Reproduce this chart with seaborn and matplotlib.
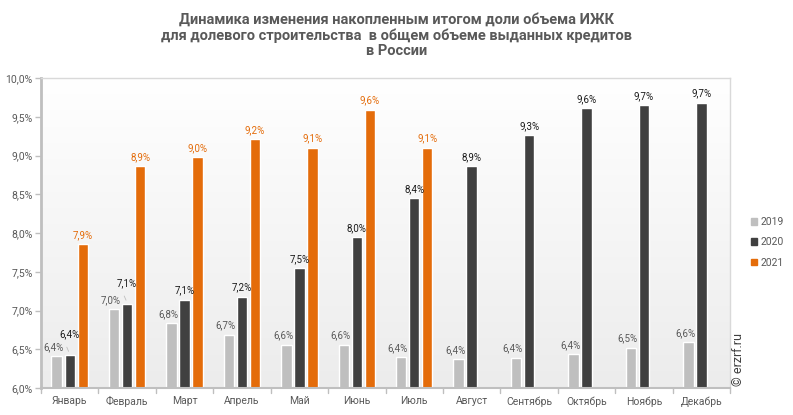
import numpy as np
import pandas as pd
import matplotlib.pyplot as plt
import seaborn as sns

months = ["Январь", "Февраль", "Март", "Апрель", "Май", "Июнь", "Июль",
          "Август", "Сентябрь", "Октябрь", "Ноябрь", "Декабрь"]
years = ["2019", "2020", "2021"]
v2019 = [6.41, 7.02, 6.84, 6.69, 6.56, 6.56, 6.40, 6.37, 6.39, 6.44, 6.52, 6.59]
v2020 = [6.43, 7.09, 7.14, 7.18, 7.55, 7.95, 8.45, 8.86, 9.26, 9.61, 9.65, 9.68]
v2021 = [7.86, 8.86, 8.98, 9.21, 9.10, 9.59, 9.10, None, None, None, None, None]

colors = {"2019": "#bfbfbf", "2020": "#404040", "2021": "#e46c0a"}
label_colors = {"2019": "#595959", "2020": "#1a1a1a", "2021": "#e46c0a"}

rows = []
for y, vals in zip(years, [v2019, v2020, v2021]):
    for m, v in zip(months, vals):
        rows.append({"month": m, "year": y, "value": np.nan if v is None else v})
df = pd.DataFrame(rows)

sns.set_style("white")
plt.rcParams['font.family'] = ['Roboto', 'DejaVu Sans']

fig = plt.figure(figsize=(7.93, 4.15), dpi=100)
ax = fig.add_axes([0.0517, 0.065, 0.869, 0.747])

# gradient background
grad = np.linspace(1, 0, 256).reshape(-1, 1)
ax.imshow(grad, extent=[0, 1, 0, 1], transform=ax.transAxes, aspect="auto",
          cmap=plt.matplotlib.colors.LinearSegmentedColormap.from_list("g", ["#ececec", "#ffffff"]),
          vmin=0, vmax=1, zorder=0)

sns.barplot(data=df, x="month", y="value", hue="year", palette=colors, saturation=1,
            width=0.68, gap=0.2, ax=ax, legend=False, zorder=2, errorbar=None)

ax.set_ylim(6.0, 10.0)
ax.set_xlim(-0.5, 11.5)
ax.set_yticks(np.arange(6.0, 10.01, 0.5))
ax.set_yticklabels([f"{t:.1f}%".replace(".", ",") for t in np.arange(6.0, 10.01, 0.5)],
                   fontsize=7.5, color="#595959")
ax.tick_params(axis="x", length=0, labelsize=7.5, labelcolor="#595959", pad=6)
ax.tick_params(axis="y", length=4, color="#bfbfbf", width=1, pad=2, left=True)
ax.set_xlabel("")
ax.set_ylabel("")
for i in range(13):
    ax.plot([i - 0.5, i - 0.5], [0, -0.015], transform=ax.get_xaxis_transform(),
            color="#bfbfbf", lw=1, clip_on=False)

for s in ["top", "right"]:
    ax.spines[s].set_color("#d9d9d9")
    ax.spines[s].set_linewidth(1)
ax.spines["left"].set_color("#bfbfbf")
ax.spines["left"].set_linewidth(2)
ax.spines["bottom"].set_color("#bfbfbf")
ax.spines["bottom"].set_linewidth(1.5)

# value labels
for cont, y in zip(ax.containers, years):
    for i, (bar, v) in enumerate(zip(cont.patches, cont.datavalues)):
        if np.isnan(v):
            continue
        x = bar.get_x() + bar.get_width() / 2
        pad = 3
        if y == "2019":
            x -= 0.06
        if y == "2020" and i in (0, 1):
            pad = 11
        ax.annotate(f"{v:.1f}%".replace(".", ","), (x, v), xytext=(0, pad),
                    textcoords="offset points", ha="center", va="bottom",
                    fontsize=7, color=label_colors[y], zorder=3)
    if y == "2020":
        for i in (0, 1):
            bar = cont.patches[i]
            xc = bar.get_x() + bar.get_width() / 2
            ax.annotate("", (xc, cont.datavalues[i] + 0.01),
                        xytext=(xc - 0.07, cont.datavalues[i] + 0.13),
                        arrowprops=dict(arrowstyle="-", color="#bfbfbf", lw=0.6))

# legend
handles = [plt.Rectangle((0, 0), 1, 1, color=colors[y]) for y in years]
fig.legend(handles, years, loc="upper left", bbox_to_anchor=(0.935, 0.5),
           frameon=False, fontsize=7.5, handlelength=0.6, handleheight=0.6,
           handletextpad=0.3, labelspacing=1.0, labelcolor="#595959")

fig.text(0.5, 0.915, "Динамика изменения накопленным итогом доли объема ИЖК\n"
         "для долевого строительства  в общем объеме выданных кредитов\nв России",
         ha="center", va="center", fontsize=10.5, fontweight="bold", color="#595959",
         linespacing=1.15)
fig.text(0.931, 0.07, "© erzrf.ru", rotation=90, ha="center", va="bottom",
         fontsize=9, color="#404040")

fig.savefig("out.png", dpi=100)
